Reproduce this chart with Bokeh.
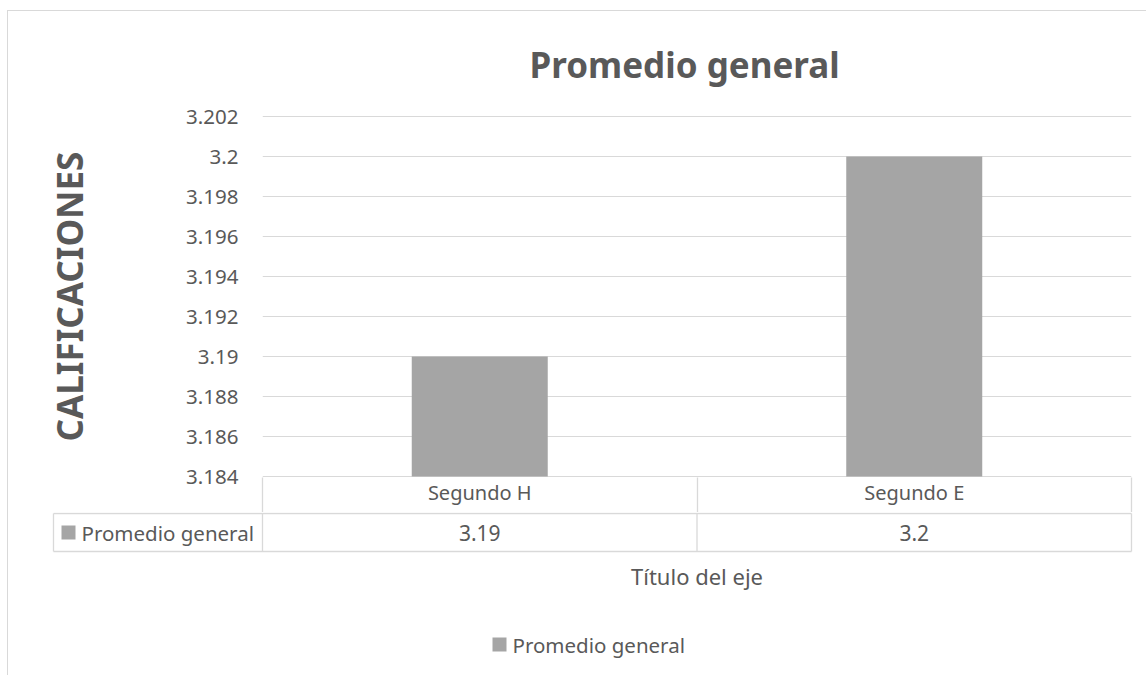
from bokeh.plotting import figure
from bokeh.models import (ColumnDataSource, FixedTicker, LinearAxis, Range1d,
                          FactorRange)
from bokeh.embed import file_html
from bokeh.resources import INLINE
from bokeh.core.properties import value

# ---------------- data ----------------
categories = ["Segundo H", "Segundo E"]
promedio = [3.19, 3.2]
series_name = "Promedio general"
y_ticks = [3.184, 3.186, 3.188, 3.19, 3.192, 3.194, 3.196, 3.198, 3.2, 3.202]
y_tick_labels = ["3.184", "3.186", "3.188", "3.19", "3.192", "3.194",
                 "3.196", "3.198", "3.2", "3.202"]
chart_title = "Promedio general"
y_title = "CALIFICACIONES"
x_title = "Título del eje"

# ---------------- style ----------------
FONT = "Noto Sans"
TEXT = "#595959"
BAR = "#A5A5A5"
LINE = "#D9D9D9"
W = 1146
HA, HB = 512, 163
FL, FR = 262, 1131          # plot-area left/right (page px)
FT, FB = 115, 477           # plot-area top/bottom (page px)
PX = (y_ticks[-1] - y_ticks[0]) / 360.0   # value per pixel

GRAD = "linear-gradient(#d9d9d9,#d9d9d9)"

# ---------------- chart (top figure) ----------------
pa = figure(width=W, height=HA,
            x_range=FactorRange(*categories),
            y_range=Range1d(y_ticks[0] - PX, y_ticks[-1] + PX),
            x_axis_type=None,
            output_backend="svg", toolbar_location=None,
            min_border_left=FL, min_border_right=W - FR,
            min_border_top=FT, min_border_bottom=HA - FB,
            styles={"background-image": GRAD + ", " + GRAD,
                    "background-size": "1px 100%, 100% 1px",
                    "background-position": "7px 10px, 7px 10px",
                    "background-repeat": "no-repeat"})
pa.outline_line_color = None
pa.border_fill_color = None
pa.background_fill_color = "white"

src = ColumnDataSource(dict(cat=categories, val=promedio))
pa.vbar(x="cat", top="val", bottom=y_ticks[0], width=0.313, source=src,
        fill_color=BAR, line_color=None)

pa.yaxis.ticker = FixedTicker(ticks=y_ticks)
pa.yaxis.major_label_overrides = dict(zip(y_ticks, y_tick_labels))
pa.yaxis.axis_line_color = None
pa.yaxis.major_tick_line_color = None
pa.yaxis.major_tick_in = 0
pa.yaxis.major_tick_out = 0
pa.yaxis.minor_tick_line_color = None
pa.yaxis.major_label_standoff = 24
pa.yaxis.major_label_text_font = FONT
pa.yaxis.major_label_text_font_size = "20.5px"
pa.yaxis.major_label_text_color = TEXT
pa.yaxis.axis_label = y_title
pa.yaxis.axis_label_text_font = FONT
pa.yaxis.axis_label_text_font_size = "35px"
pa.yaxis.axis_label_text_font_style = "bold"
pa.yaxis.axis_label_text_color = TEXT
pa.yaxis.axis_label_standoff = 90
pa.ygrid.grid_line_color = LINE
pa.xgrid.grid_line_color = None

# table header row: category labels + column separators (minor ticks)
ncat = len(categories)
centers = [i + 0.5 for i in range(ncat)]
edges = [float(i) for i in range(ncat + 1)]
xax = LinearAxis(ticker=FixedTicker(ticks=centers, minor_ticks=edges),
                 major_label_overrides=dict(zip(centers, categories)))
xax.axis_line_color = None
xax.major_tick_line_color = None
xax.major_tick_in = 0
xax.major_tick_out = 0
xax.minor_tick_in = 0
xax.minor_tick_out = 36
xax.minor_tick_line_color = LINE
xax.minor_tick_line_width = 1.3
xax.major_label_standoff = -35
xax.major_label_text_font = FONT
xax.major_label_text_font_size = "20px"
xax.major_label_text_color = TEXT
pa.add_layout(xax, "below")

pa.title.text = chart_title
pa.title.align = "left"
pa.title.offset = 267
pa.title.text_font = FONT
pa.title.text_font_size = "35px"
pa.title.text_font_style = "bold"
pa.title.text_color = TEXT
pa.title.standoff = 56

# ---------------- data table, axis title, legend (bottom figure) ----------------
pb = figure(width=W, height=HB,
            x_range=Range1d(0, W), y_range=Range1d(HA + HB, HA),
            x_axis_type=None, y_axis_type=None,
            output_backend="svg", toolbar_location=None,
            min_border=0,
            styles={"background-image": GRAD,
                    "background-size": "1px 100%",
                    "background-position": "7px 0px",
                    "background-repeat": "no-repeat"})
pb.outline_line_color = None
pb.border_fill_color = None
pb.background_fill_color = None
pb.grid.visible = False

T_LEFT, R_TOP, R_BOT = 53, 513, 551
colw = (FR - FL) / ncat
col_x = [FL + i * colw for i in range(ncat + 1)]
pb.segment(x0=[T_LEFT, T_LEFT], x1=[FR, FR], y0=[R_TOP, R_BOT], y1=[R_TOP, R_BOT],
           line_color=LINE, line_width=1.3)
vx = [T_LEFT] + col_x
pb.segment(x0=vx, x1=vx, y0=[R_TOP] * len(vx), y1=[R_BOT] * len(vx),
           line_color=LINE, line_width=1.3)

row_y = (R_TOP + R_BOT) / 2
pb.rect(x=[68], y=[row_y], width=14, height=14, fill_color=BAR, line_color=None)
pb.text(x=[81], y=[row_y], text=[series_name], text_font=value(FONT),
        text_font_size=value("20.5px"), text_color=TEXT, text_baseline="middle")
pb.text(x=[FL + (i + 0.5) * colw for i in range(ncat)], y=[row_y] * ncat,
        text=[f"{v:g}" for v in promedio], text_font=value(FONT),
        text_font_size=value("21px"), text_color=TEXT, text_align="center",
        text_baseline="middle")

pb.text(x=[(FL + FR) / 2], y=[575], text=[x_title], text_font=value(FONT),
        text_font_size=value("22px"), text_color=TEXT, text_align="center",
        text_baseline="middle")

pb.rect(x=[499], y=[644], width=14, height=14, fill_color=BAR, line_color=None)
pb.text(x=[512], y=[644], text=[series_name], text_font=value(FONT),
        text_font_size=value("20.5px"), text_color=TEXT, text_baseline="middle")

open("out.html", "w").write(file_html([pa, pb], INLINE, title="Promedio general"))
